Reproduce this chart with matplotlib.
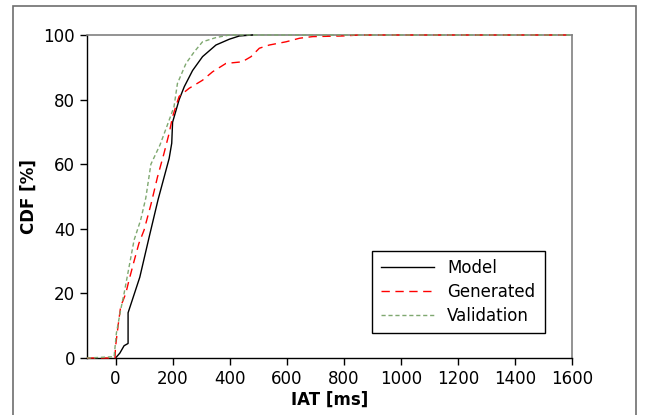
import matplotlib
matplotlib.use("Agg")
import matplotlib.pyplot as plt
from matplotlib.patches import Rectangle

# Data
model_x = [0, 15, 30, 44, 44, 85, 118, 149, 188, 197, 200, 223, 241, 270, 305, 352, 399, 434, 480]
model_y = [0, 1.5, 3.8, 4.5, 14, 25, 37.5, 49, 61.8, 66.5, 73, 80, 84, 89, 93.3, 96.9, 98.7, 99.7, 100]

gen_x = [-100, -2, 0, 10, 18, 36, 47, 65, 82, 100, 124, 147, 170, 188, 200, 211, 223, 258, 305,
         340, 387, 444, 475, 504, 539, 598, 645, 691, 796, 855, 1600]
gen_y = [0, 0, 3.5, 10.7, 15.9, 20, 24, 30, 35.5, 39.6, 47.5, 56, 63.4, 69.6, 74.7, 77.8, 81, 83.5, 86,
         88.6, 91.2, 91.7, 93.3, 95.9, 96.9, 97.9, 99, 99.5, 99.7, 100, 100]

val_x = [-100, -5, 3, 18, 30, 47, 65, 88, 106, 124, 156, 182, 205, 217, 247, 276, 305, 352, 399, 1600]
val_y = [0, 0.4, 7.7, 14.9, 20, 28, 36.5, 42.7, 49.5, 60, 66, 72.2, 77.8, 85, 91.2, 94.8, 97.9, 99.2, 100, 100]

x_ticks = [0, 200, 400, 600, 800, 1000, 1200, 1400, 1600]
y_ticks = [0, 20, 40, 60, 80, 100]

plt.rcParams['font.family'] = ['DejaVu Sans']

fig = plt.figure(figsize=(6.47, 4.15), dpi=100)
fig.patch.set_facecolor('white')

# outer frame
fig.patches.append(Rectangle((13/647, -0.1), (636-13)/647, 1.1 - 6/415, transform=fig.transFigure,
                             fill=False, edgecolor='#6e6e6e', linewidth=1.2))

ax = fig.add_axes([87/647, 1-358/415, (572-87)/647, (358-35)/415])

ax.plot(model_x, model_y, color='black', lw=1.0, label='Model', clip_on=False, zorder=3)
ax.plot(gen_x, gen_y, color='#ff0000', lw=1.0, dashes=(6, 4), label='Generated', clip_on=False, zorder=3)
ax.plot(val_x, val_y, color='#7fa870', lw=1.0, dashes=(3, 2), label='Validation', clip_on=False, zorder=3)

ax.set_xlim(-100, 1600)
ax.set_ylim(0, 100)
ax.set_xticks(x_ticks)
ax.set_yticks(y_ticks)
ax.tick_params(direction='out', length=5, width=1, labelsize=12, color='black')
for s in ['left', 'bottom']:
    ax.spines[s].set_color('black')
    ax.spines[s].set_linewidth(1.0)
for s in ['top', 'right']:
    ax.spines[s].set_color('#808080')
    ax.spines[s].set_linewidth(1.2)

ax.set_xlabel('IAT [ms]', fontsize=12, fontweight='bold', labelpad=2)
ax.set_ylabel('CDF [%]', fontsize=12, fontweight='bold', labelpad=4)

leg = ax.legend(loc='lower left', bbox_to_anchor=(0.588, 0.077, 0.357, 0.279), mode='expand',
                fancybox=False, edgecolor='black', framealpha=1, fontsize=12,
                handlelength=3.2, borderaxespad=0, labelspacing=0.35, borderpad=0.5)
leg.get_frame().set_linewidth(1.0)
leg.set_zorder(5)

fig.savefig('out.png', dpi=100)
